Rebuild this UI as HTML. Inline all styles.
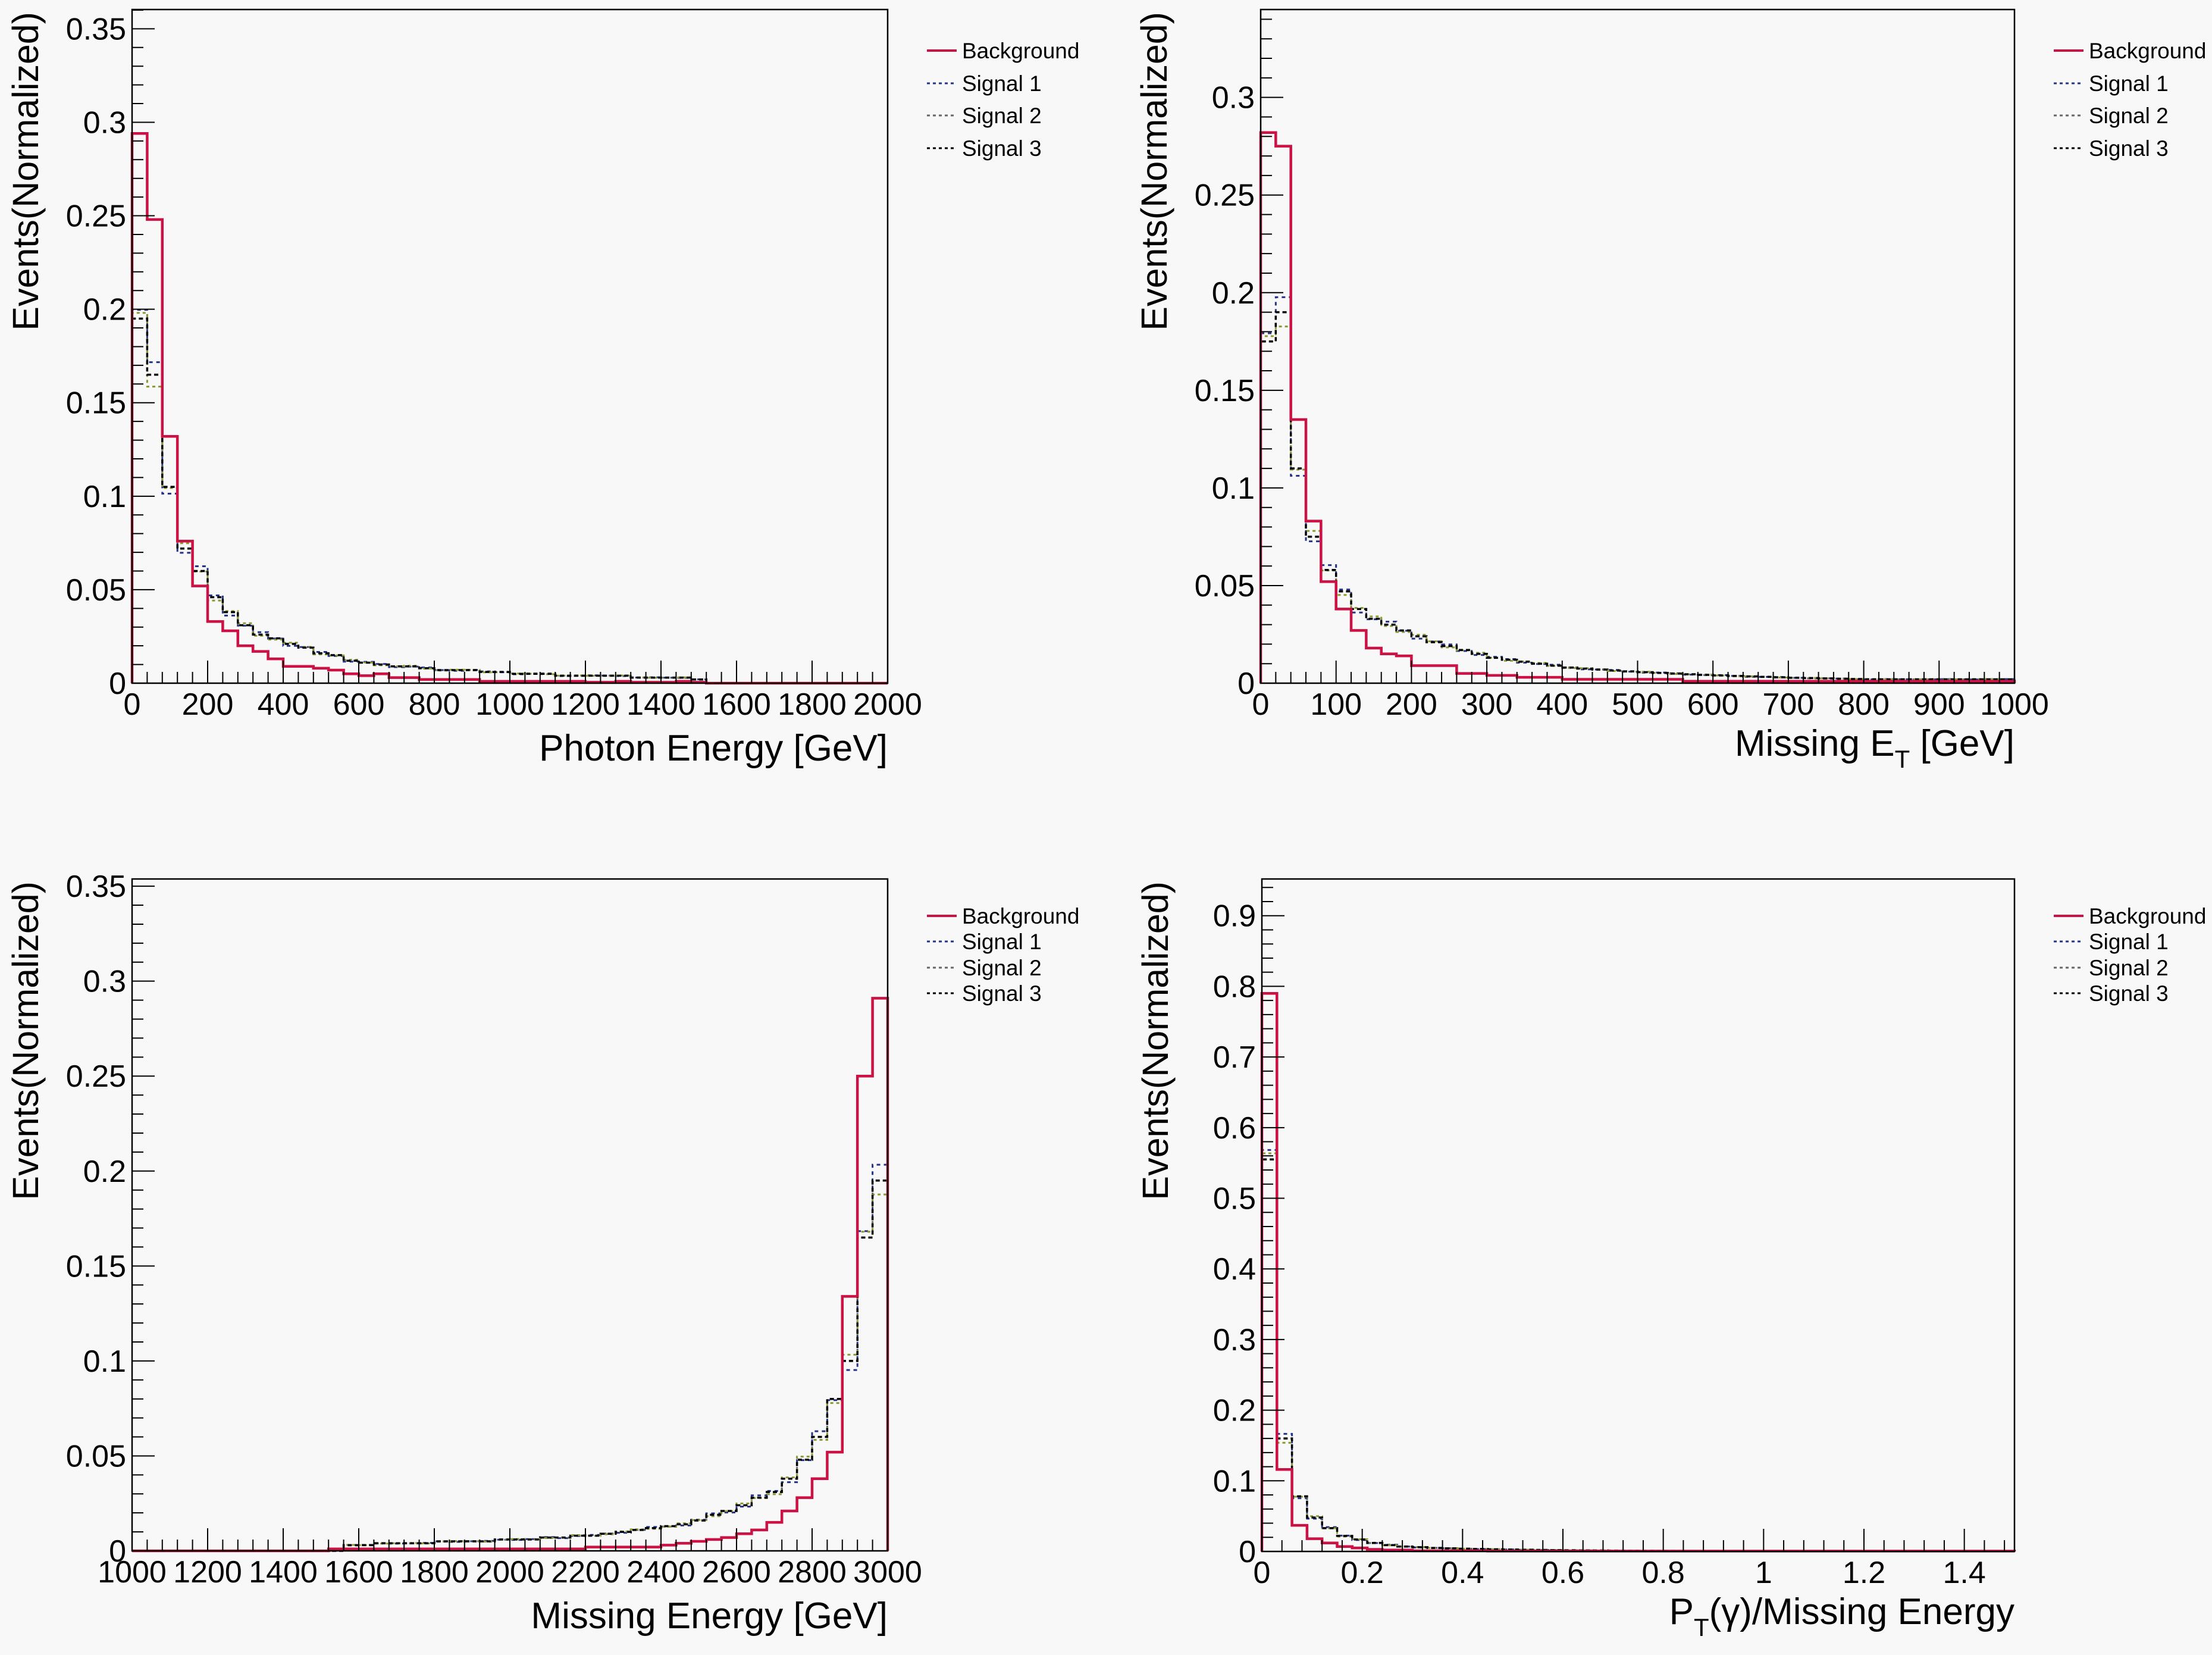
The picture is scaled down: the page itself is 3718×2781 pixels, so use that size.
<!DOCTYPE html>
<html><head><meta charset="utf-8">
<style>
html,body{margin:0;padding:0;background:#f8f8f8;}
svg{display:block;}
text{font-family:"Liberation Sans",sans-serif;fill:#000;}
</style></head><body>
<svg id="s" width="3718" height="2781" xmlns="http://www.w3.org/2000/svg"></svg>
<script>
const S=document.getElementById('s');
let out='<rect width="3718" height="2781" fill="#f8f8f8"/>';
function decay(a,n,k,min){const r=[];for(let i=0;i<n;i++)r.push(i<a.length?a[i]:Math.max(min,a[a.length-1]*Math.exp(-k*(i-a.length+1))));return r;}
function panel(P){
 const {L,R,T,B,xmin,xmax,ymax,series,xt,xminor,yt,yminor,ylabs,xlabs,title,leg,ty}=P;
 const X=v=>L+(v-xmin)/(xmax-xmin)*(R-L);
 const Y=v=>B-v/ymax*(B-T);
 series.forEach(s=>{
   const n=s.d.length,w=(xmax-xmin)/n;let p='M'+X(xmin)+','+B;
   for(let i=0;i<n;i++){const y=Y(s.d[i]);p+=' L'+X(xmin+i*w)+','+y+' L'+X(xmin+(i+1)*w)+','+y;}
   p+=' L'+X(xmax)+','+B;
   out+=`<path d="${p}" fill="none" stroke="${s.c}" stroke-width="${s.w}" ${s.dash?'stroke-dasharray="'+s.dash+'"':''}/>`;
 });
 out+=`<rect x="${L}" y="${T}" width="${R-L}" height="${B-T}" fill="none" stroke="#000" stroke-width="2.5"/>`;
 for(let v=0;v<=ymax+1e-9;v+=yminor){const y=Y(v);const maj=Math.abs(v/yt-Math.round(v/yt))<1e-6;
   out+=`<line x1="${L}" x2="${L+(maj?38:19)}" y1="${y}" y2="${y}" stroke="#000" stroke-width="2"/>`;}
 ylabs.forEach(v=>{out+=`<text x="${L-10}" y="${Y(v)+18}" font-size="52" text-anchor="end">${v}</text>`;});
 for(let v=xmin;v<=xmax+1e-9;v+=xminor){const x=X(v);const maj=Math.abs((v-xmin)/xt-Math.round((v-xmin)/xt))<1e-6;
   out+=`<line x1="${x}" x2="${x}" y1="${B}" y2="${B-(maj?38:19)}" stroke="#000" stroke-width="2"/>`;}
 xlabs.forEach(v=>{out+=`<text x="${X(v)}" y="${B+53}" font-size="52" text-anchor="middle">${v}</text>`;});
 out+=`<text x="${R}" y="${B+(ty||130)}" font-size="62" text-anchor="end">${title}</text>`;
 out+=`<text transform="translate(${L-158},${T+4}) rotate(-90)" font-size="61" text-anchor="end">Events(Normalized)</text>`;
 const names=['Background','Signal 1','Signal 2','Signal 3'],cols=['#cc1144','#223388','#666','#000'];
 leg.ys.forEach((y,i)=>{
   out+=`<line x1="${leg.x}" x2="${leg.x+50}" y1="${y}" y2="${y}" stroke="${cols[i]}" stroke-width="${i==0?4:3}" ${i?'stroke-dasharray="5,5"':''}/>`;
   out+=`<text x="${leg.x+59}" y="${y+13}" font-size="37">${names[i]}</text>`;
 });
}
function sig(base,f){return base.map((v,i)=>v*(1+f*Math.sin(i*1.7+f*10)));}
let bg1=[0.294,0.248,0.132,0.076,0.052,0.033,0.028,0.020,0.017,0.013,0.009,0.009,0.008,0.007,0.005,0.004,0.005,0.003,0.003,0.002,0.002,0.002,0.002,0.001,0.001,0.001,0.001,0.001,0.001,0.001,0.0005,0.0005,0.001,0.0005,0.0005,0.0005,0.001,0.0005];
while(bg1.length<50)bg1.push(0);
let s1=[0.195,0.165,0.105,0.072,0.060,0.046,0.038,0.031,0.026,0.024,0.021,0.019,0.016,0.015,0.012,0.011,0.010,0.009,0.009,0.008,0.007,0.007,0.007,0.006,0.006,0.005,0.005,0.005,0.004,0.004,0.004,0.004,0.004,0.003,0.003,0.003,0.003,0.002];
while(s1.length<50)s1.push(0);
function sset(b){return [{d:sig(b,0.05),c:'#223388',w:3,dash:'6,6'},{d:sig(b,-0.04),c:'#8a9a30',w:3,dash:'5,5'},{d:b,c:'#000',w:3.5,dash:'7,5'}];}
panel({L:222,R:1492,T:16,B:1148,xmin:0,xmax:2000,ymax:0.3603,series:[...sset(s1),{d:bg1,c:'#cc1144',w:4.5}],
 xt:200,xminor:40,yt:0.05,yminor:0.01,ylabs:[0,0.05,0.1,0.15,0.2,0.25,0.3,0.35],
 xlabs:[0,200,400,600,800,1000,1200,1400,1600,1800,2000],title:'Photon Energy [GeV]',leg:{x:1558,ys:[85,140,194,249]}});
let bg2=[0.282,0.275,0.135,0.083,0.052,0.038,0.027,0.018,0.015,0.014,0.009,0.009,0.009,0.005,0.005,0.004,0.004,0.003,0.003,0.003,0.002,0.002,0.002,0.002,0.002,0.002,0.002,0.002,0.001,0.001];
while(bg2.length<50)bg2.push(0.001);
let s2=decay([0.175,0.19,0.11,0.075,0.058,0.047,0.038,0.033,0.030,0.027,0.024,0.021,0.019,0.017,0.015,0.013,0.012,0.011,0.010,0.009,0.008],50,0.07,0.002);
panel({L:2119,R:3386,T:16,B:1148,xmin:0,xmax:1000,ymax:0.345,series:[...sset(s2),{d:bg2,c:'#cc1144',w:4.5}],
 xt:100,xminor:20,yt:0.05,yminor:0.01,ylabs:[0,0.05,0.1,0.15,0.2,0.25,0.3],ty:122,
 xlabs:[0,100,200,300,400,500,600,700,800,900,1000],title:'Missing E<tspan font-size="42" dy="20">T</tspan><tspan dy="-20"> [GeV]</tspan>',leg:{x:3452,ys:[85,140,194,249]}});
let s3=new Array(50).fill(0);
const s3tail=[0.003,0.003,0.004,0.004,0.004,0.004,0.005,0.005,0.005,0.005,0.006,0.006,0.006,0.007,0.007,0.008,0.008,0.009,0.010,0.011,0.012,0.013,0.014,0.016,0.019,0.021,0.024,0.028,0.031,0.038,0.048,0.060,0.080,0.100,0.165,0.195];
for(let i=0;i<s3tail.length;i++)s3[50-s3tail.length+i]=s3tail[i];
let bg3=new Array(50).fill(0);
const bgtail=[0.001,0.001,0.001,0.001,0.001,0.001,0.001,0.001,0.001,0.001,0.001,0.001,0.001,0.001,0.001,0.001,0.001,0.002,0.002,0.002,0.002,0.002,0.003,0.004,0.005,0.006,0.007,0.009,0.011,0.015,0.021,0.028,0.038,0.052,0.134,0.25,0.291];
for(let i=0;i<bgtail.length;i++)bg3[50-bgtail.length+i]=bgtail[i];
panel({L:222,R:1492,T:1477,B:2606,xmin:1000,xmax:3000,ymax:0.3538,series:[...sset(s3),{d:bg3,c:'#cc1144',w:4.5}],
 xt:200,xminor:40,yt:0.05,yminor:0.01,ylabs:[0,0.05,0.1,0.15,0.2,0.25,0.3,0.35],
 xlabs:[1000,1200,1400,1600,1800,2000,2200,2400,2600,2800,3000],title:'Missing Energy [GeV]',leg:{x:1558,ys:[1539,1582,1626,1669]}});
let bg4=[0.79,0.116,0.037,0.018,0.012,0.007,0.005,0.003,0.002,0.002,0.001,0.001,0.001,0.001,0.001];
while(bg4.length<50)bg4.push(0.0005);
let s4=decay([0.555,0.16,0.078,0.048,0.033,0.022,0.017,0.012,0.009,0.007,0.006,0.005],50,0.12,0.0005);
panel({L:2121,R:3386,T:1477,B:2607,xmin:0,xmax:1.5,ymax:0.952,series:[...sset(s4),{d:bg4,c:'#cc1144',w:4.5}],
 xt:0.2,xminor:0.04,yt:0.1,yminor:0.02,ylabs:[0,0.1,0.2,0.3,0.4,0.5,0.6,0.7,0.8,0.9],ty:122,
 xlabs:[0,0.2,0.4,0.6,0.8,1,1.2,1.4],title:'P<tspan font-size="42" dy="20">T</tspan><tspan dy="-20">(γ)/Missing Energy</tspan>',leg:{x:3452,ys:[1539,1582,1626,1669]}});
S.innerHTML=out;
</script>
</body></html>
